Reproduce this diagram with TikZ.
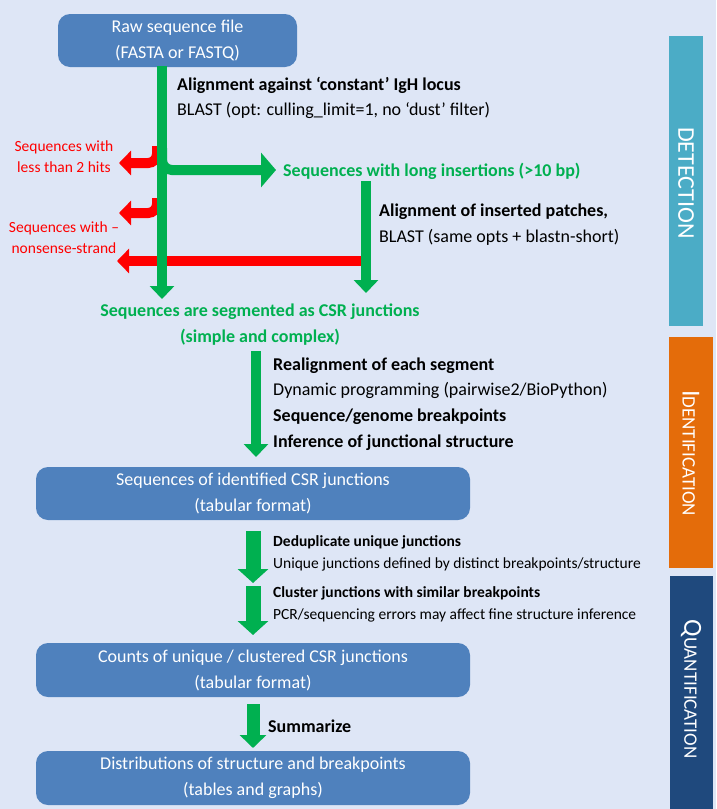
\documentclass[tikz,border=0pt]{standalone}
\usepackage{fontspec}
\setmainfont{Carlito}
\usetikzlibrary{arrows.meta}
\definecolor{bg}{RGB}{222,230,246}
\definecolor{boxblue}{RGB}{79,129,189}
\definecolor{grn}{RGB}{0,176,80}
\definecolor{rd}{RGB}{255,0,0}
\definecolor{tealc}{RGB}{75,172,198}
\definecolor{orng}{RGB}{228,108,10}
\definecolor{navyc}{RGB}{31,73,125}
\begin{document}
\begin{tikzpicture}[x=1pt,y=-1pt,
  stage/.style={fill=boxblue, rounded corners=12pt, text=white, align=center,
    font=\fontsize{18}{26}\selectfont, inner sep=0pt},
  garrow/.style={draw=grn, line width=10pt, -{Triangle[width=24pt,length=13pt]}},
  wgarrow/.style={draw=grn, line width=15pt, -{Triangle[width=30pt,length=14pt]}},
  rarrow/.style={draw=rd, line width=10pt, rounded corners=9pt, -{Triangle[width=24pt,length=12pt]}},
  blab/.style={anchor=base west, inner sep=0pt, font=\fontsize{18}{20}\selectfont\bfseries},
  nlab/.style={anchor=base west, inner sep=0pt, font=\fontsize{18}{20}\selectfont},
  sblab/.style={anchor=base west, inner sep=0pt, font=\fontsize{15.5}{18}\selectfont\bfseries},
  snlab/.style={anchor=base west, inner sep=0pt, font=\fontsize{15.5}{18}\selectfont},
  redlab/.style={text=rd, align=center, inner sep=0pt, font=\fontsize{15.5}{21}\selectfont},
  greenlab/.style={text=grn, align=center, inner sep=0pt, font=\fontsize{18}{26}\selectfont\bfseries},
  sidetext/.style={text=white, rotate=-90, inner sep=0pt, font=\fontsize{19}{22}\selectfont},
]
\fill[bg] (0,0) rectangle (716,809);
\useasboundingbox (0,0) rectangle (716,809);

% side bars
\fill[tealc] (669,36) rectangle (703,326);
\fill[orng] (669,337) rectangle (713,568);
\fill[navyc] (670,576) rectangle (713,809);
\node[sidetext, font=\fontsize{24}{26}\selectfont] (det) at (686,183) {DETECTION};
\node[sidetext] (ide) at (691,453) {{\fontsize{26}{26}\selectfont I}DENTIFICATION};
\node[sidetext] (qua) at (691,689) {{\fontsize{26}{26}\selectfont Q}UANTIFICATION};

% boxes
\node[stage, minimum width=239pt, minimum height=53pt] (raw) at (177.5,40.5) {Raw sequence file\\(FASTA or FASTQ)};
\node[stage, minimum width=434pt, minimum height=53pt] (ident) at (253,493.5) {Sequences of identified CSR junctions\\(tabular format)};
\node[stage, minimum width=434pt, minimum height=54pt] (counts) at (253,670) {Counts of unique / clustered CSR junctions\\(tabular format)};
\node[stage, minimum width=434pt, minimum height=54pt] (dist) at (253,778) {Distributions of structure and breakpoints\\(tables and graphs)};

% labels
\node[blab] (l1) at (177,90) {Alignment against ‘constant’ IgH locus};
\node[nlab] (l2) at (177,115) {BLAST (opt: culling\_limit=1, no ‘dust’ filter)};
\node[blab, text=grn] (ins) at (283,176) {Sequences with long insertions (>10 bp)};
\node[blab] (l3) at (379,216) {Alignment of inserted patches,};
\node[nlab] (l4) at (379,242) {BLAST (same opts + blastn-short)};
\node[greenlab] (seg) at (260,325) {Sequences are segmented as CSR junctions\\(simple and complex)};
\node[blab] (l5) at (273,370) {Realignment of each segment};
\node[nlab] (l6) at (273,395) {Dynamic programming (pairwise2/BioPython)};
\node[blab] (l7) at (273,421) {Sequence/genome breakpoints};
\node[blab] (l8) at (273,447) {Inference of junctional structure};
\node[sblab] (l9) at (273,546) {Deduplicate unique junctions};
\node[snlab] (l10) at (273,568) {Unique junctions defined by distinct breakpoints/structure};
\node[sblab] (l11) at (273,597) {Cluster junctions with similar breakpoints};
\node[snlab] (l12) at (273,619) {PCR/sequencing errors may affect fine structure inference};
\node[blab] (l13) at (268,732) {Summarize};
\node[redlab] (r1) at (64,157) {Sequences with\\less than 2 hits};
\node[redlab] (r2) at (64,238) {Sequences with –\\nonsense-strand};

% coordinates
\coordinate (m0) at (162,66);
\coordinate (m1) at (162,299);
\coordinate (b0) at (162,148);
\coordinate (b1) at (276,170);
\coordinate (v0) at (366,181);
\coordinate (v1) at (366,293);
\coordinate (x0) at (157,146);
\coordinate (x1) at (119,163);
\coordinate (y0) at (157,198);
\coordinate (y1) at (119,213);
\coordinate (z0) at (362,261);
\coordinate (z1) at (117,261);
\coordinate (s0) at (256,351);
\coordinate (s1) at (256,457);
\coordinate (d0) at (253,531);
\coordinate (d1) at (253,583);
\coordinate (c0) at (253,586);
\coordinate (c1) at (253,635);
\coordinate (u0) at (253,704);
\coordinate (u1) at (253,748);

% red arrows (under green)
\draw[rarrow] (x0) |- (x1);
\draw[rarrow] (y0) |- (y1);
\draw[rarrow] (z0) -- (z1);

% green arrows
\draw[draw=grn, line width=10pt, rounded corners=10pt, -{Triangle[width=34pt,length=15pt]}] (b0) |- (b1);
\draw[garrow] (m0) -- (m1);
\draw[garrow] (v0) -- (v1);
\draw[garrow] (s0) -- (s1);
\draw[wgarrow] (d0) -- (d1);
\draw[wgarrow] (c0) -- (c1);
\draw[draw=grn, line width=13pt, -{Triangle[width=26pt,length=13pt]}] (u0) -- (u1);
\end{tikzpicture}
\end{document}
